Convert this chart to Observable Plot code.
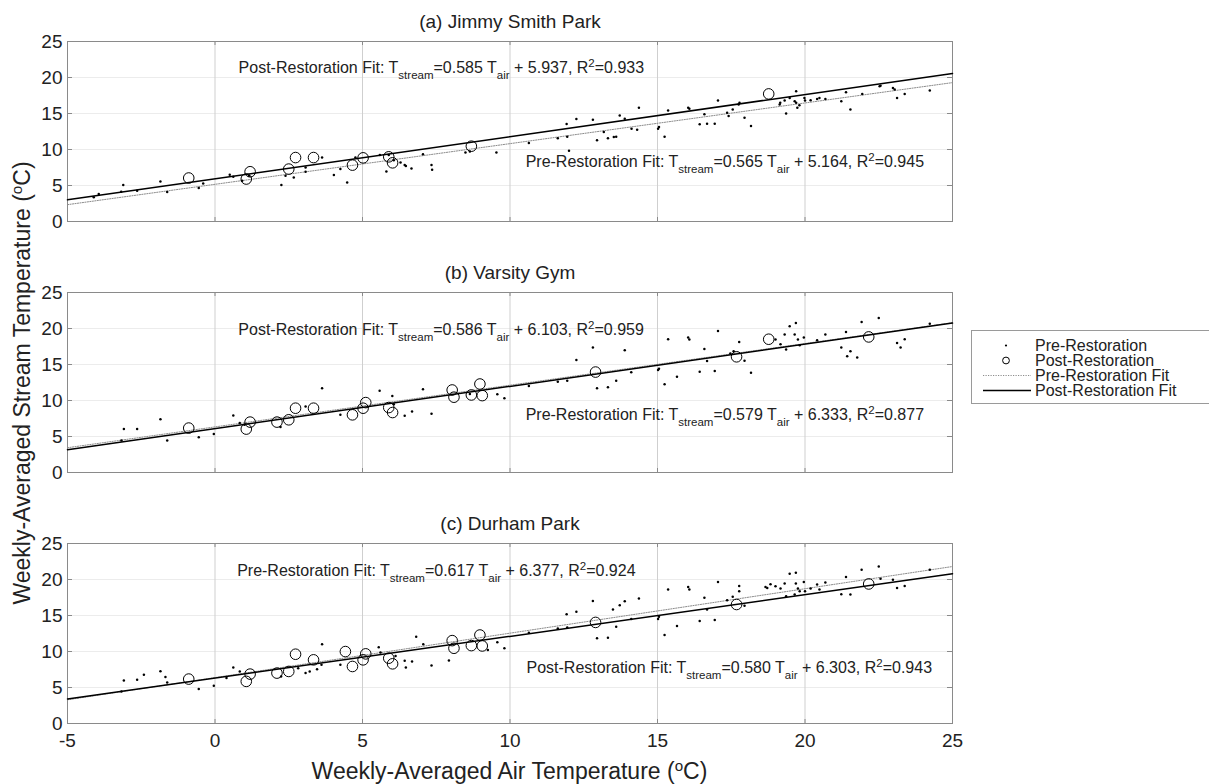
<!DOCTYPE html>
<html>
<head>
<meta charset="utf-8">
<script src="https://cdn.jsdelivr.net/npm/d3@7"></script>
<script src="https://cdn.jsdelivr.net/npm/@observablehq/plot@0.6"></script>
<style>
  html, body { margin: 0; padding: 0; background: #fff; }
  body { width: 1209px; height: 784px; position: relative; overflow: hidden;
         font-family: "Liberation Sans", Arial, Helvetica, sans-serif; color: #222; }
  #chart { position: absolute; left: 0; top: 0; }
  .xlabel { position: absolute; left: 0; width: 1019px; top: 758px; text-align: center; font-size: 23px; line-height: 26px; }
  .ylabel { position: absolute; left: 22px; top: 383px; transform: translate(-50%, -50%) rotate(-90deg); white-space: nowrap; font-size: 23px; line-height: 26px; }
  sup { font-size: 0.66em; vertical-align: 0.55em; line-height: 0; }
  .legend { position: absolute; left: 971px; top: 330px; width: 260px; height: 74px; border: 1px solid #9a9a9a; background: #fff; box-sizing: border-box; padding-top: 7px; }
  .legend .row { height: 15px; line-height: 15px; font-size: 16px; position: relative; white-space: nowrap; }
  .legend .row svg { position: absolute; left: 10px; top: 0; }
  .legend .row span { position: absolute; left: 63px; top: 0; }
</style>
</head>
<body>
<div id="chart"></div>
<div class="ylabel">Weekly-Averaged Stream Temperature (<sup>o</sup>C)</div>
<div class="xlabel">Weekly-Averaged Air Temperature (<sup>o</sup>C)</div>
<div class="legend">
  <div class="row"><svg width="50" height="15"><circle cx="24" cy="7.5" r="1.1" fill="#000"/></svg><span>Pre-Restoration</span></div>
  <div class="row"><svg width="50" height="15"><circle cx="24" cy="7.5" r="3.4" fill="none" stroke="#000" stroke-width="1"/></svg><span>Post-Restoration</span></div>
  <div class="row"><svg width="50" height="15"><line x1="1" x2="49" y1="7.5" y2="7.5" stroke="#8c8c8c" stroke-width="1" stroke-dasharray="1.2,1.3"/></svg><span>Pre-Restoration Fit</span></div>
  <div class="row"><svg width="50" height="15"><line x1="1" x2="49" y1="7.5" y2="7.5" stroke="#000" stroke-width="1.4"/></svg><span>Post-Restoration Fit</span></div>
</div>
<script>
// ---------------- data ----------------
const sites = ["(a) Jimmy Smith Park", "(b) Varsity Gym", "(c) Durham Park"];

const xTicks = [-5, 0, 5, 10, 15, 20, 25];
const yTicks = [0, 5, 10, 15, 20, 25];

// Pre-restoration weekly points [air, stream]
const preA = [[-4.11,3.36],[-3.94,3.82],[-3.11,5.07],[-3.18,4.14],[-2.64,4.28],[-1.85,5.57],[-1.62,4.10],[-0.55,4.65],[-0.40,5.29],[0.50,6.49],[0.62,6.22],[0.92,5.66],[1.15,6.35],[2.25,5.07],[2.39,6.35],[2.67,6.12],[3.07,6.91],[3.07,7.50],[3.63,8.88],[4.03,6.45],[4.25,7.28],[4.48,5.43],[4.76,8.88],[5.59,9.25],[5.81,6.95],[5.89,9.25],[6.06,8.52],[6.29,8.19],[6.43,7.83],[6.47,7.70],[6.66,7.36],[7.05,9.35],[7.34,7.83],[7.36,7.18],[8.49,9.57],[8.64,9.71],[9.54,9.57],[10.64,10.91],[11.62,11.56],[11.94,11.78],[11.92,13.54],[12.00,9.81],[12.25,14.23],[12.81,14.13],[12.95,11.28],[13.18,12.43],[13.32,11.56],[13.52,11.74],[13.60,11.76],[13.72,14.73],[13.89,14.27],[14.12,12.89],[14.31,12.75],[14.37,15.79],[15.02,12.89],[15.05,13.12],[15.24,11.78],[15.36,15.43],[16.04,15.79],[16.08,15.65],[16.43,13.49],[16.59,14.88],[16.68,13.58],[16.94,13.58],[17.05,16.81],[17.36,15.10],[17.41,14.64],[17.55,15.57],[17.75,16.26],[17.78,16.49],[17.95,14.41],[18.17,13.26],[19.14,16.26],[19.16,16.49],[19.31,16.81],[19.36,15.01],[19.48,17.17],[19.70,18.09],[19.65,16.71],[19.70,16.49],[19.74,15.79],[19.81,16.16],[19.98,17.17],[20.00,16.81],[20.19,16.85],[20.41,17.03],[20.49,17.17],[20.69,17.03],[21.23,16.71],[21.39,17.96],[21.54,15.57],[21.94,17.72],[22.53,18.78],[22.56,18.85],[22.98,18.55],[23.04,18.32],[23.12,17.17],[23.38,17.72],[24.23,18.19]];
const preB = [[-3.17,4.46],[-3.09,6.03],[-2.64,6.03],[-1.85,7.41],[-1.62,4.46],[-0.55,4.88],[-0.04,5.34],[0.62,7.92],[0.84,6.86],[1.00,6.63],[2.22,6.31],[3.07,9.16],[3.63,11.70],[4.25,8.01],[5.58,11.37],[6.01,10.64],[6.06,9.48],[6.43,7.87],[6.68,8.47],[7.05,11.56],[7.34,8.15],[8.64,10.90],[9.57,10.87],[9.81,10.32],[10.64,12.02],[11.62,12.62],[11.94,12.75],[12.25,15.61],[12.81,17.36],[12.95,11.70],[13.32,11.83],[13.60,12.75],[13.89,16.99],[14.11,13.91],[15.02,14.23],[15.05,14.41],[15.24,12.25],[15.36,18.51],[15.66,13.30],[16.04,18.74],[16.08,18.46],[16.43,13.99],[16.59,17.17],[16.68,15.47],[16.94,14.09],[17.05,19.65],[17.47,16.53],[17.58,16.85],[17.77,18.14],[17.95,15.51],[18.17,13.86],[19.00,18.46],[19.17,17.82],[19.31,19.16],[19.36,17.08],[19.48,20.30],[19.69,20.76],[19.65,19.16],[19.76,18.46],[19.82,17.68],[19.96,18.74],[20.41,18.37],[20.69,19.16],[21.23,17.36],[21.39,19.52],[21.43,16.16],[21.54,16.85],[21.77,15.98],[21.92,20.90],[22.50,21.45],[23.12,18.00],[23.24,17.36],[23.38,18.51],[24.23,20.67]];
const preC = [[-3.17,4.46],[-3.09,5.98],[-2.64,6.08],[-2.41,6.77],[-1.85,7.27],[-1.68,6.45],[-1.62,5.71],[-0.55,4.79],[-0.04,5.25],[0.39,6.31],[0.62,7.78],[0.84,7.23],[2.24,6.54],[2.82,7.69],[3.07,7.00],[3.21,7.23],[3.46,7.55],[3.61,8.15],[3.63,11.00],[4.25,8.15],[5.55,10.59],[5.61,9.85],[6.12,9.39],[6.43,8.70],[6.47,7.78],[6.68,8.61],[6.82,12.06],[7.06,11.00],[7.34,8.06],[7.93,8.75],[9.25,10.22],[9.57,11.28],[9.81,10.45],[10.64,12.62],[11.62,13.21],[11.94,13.35],[11.92,15.19],[12.25,15.52],[12.81,17.03],[12.95,11.83],[13.32,11.92],[13.49,15.84],[13.60,13.44],[13.72,16.44],[13.89,16.99],[14.11,14.50],[14.37,17.36],[15.02,14.50],[15.05,14.82],[15.24,12.29],[15.36,18.60],[15.66,13.54],[16.04,18.97],[16.08,18.60],[16.43,14.23],[16.59,17.45],[16.68,15.84],[16.94,14.36],[17.05,19.66],[17.36,17.13],[17.55,17.59],[17.77,19.10],[17.77,18.37],[17.95,16.34],[18.66,18.97],[18.72,18.83],[18.83,19.34],[19.00,19.06],[19.17,18.74],[19.31,19.43],[19.36,17.68],[19.48,20.81],[19.69,20.95],[19.69,19.43],[19.76,18.74],[19.65,17.91],[19.82,18.37],[19.96,19.66],[20.00,18.37],[20.19,18.74],[20.41,19.30],[20.49,18.60],[20.69,19.57],[21.23,17.96],[21.39,20.35],[21.54,17.91],[21.92,21.37],[22.50,21.82],[22.56,20.12],[22.98,19.98],[23.12,18.83],[23.38,19.10],[24.23,21.37]];

// Post-restoration weekly points [air, stream]
const postA = [[-0.89,6.04],[1.06,5.90],[1.19,6.91],[2.50,7.28],[2.73,8.88],[3.34,8.88],[4.66,7.83],[5.02,8.84],[5.89,8.98],[6.02,8.15],[8.69,10.46],[18.77,17.72]];
const postB = [[-0.89,6.17],[1.06,6.03],[1.19,7.00],[2.10,7.00],[2.50,7.32],[2.73,8.93],[3.34,8.93],[4.66,8.01],[5.02,8.93],[5.11,9.71],[5.89,9.02],[6.02,8.33],[8.04,11.46],[8.10,10.46],[8.69,10.77],[8.98,12.29],[9.06,10.68],[12.90,13.95],[17.68,16.07],[18.77,18.51],[22.16,18.83]];
const postC = [[-0.89,6.17],[1.06,5.85],[1.19,6.86],[2.10,7.00],[2.50,7.23],[2.73,9.62],[3.34,8.84],[4.42,9.99],[4.66,7.92],[5.02,8.84],[5.11,9.67],[5.89,9.07],[6.02,8.29],[8.04,11.51],[8.10,10.45],[8.69,10.82],[8.98,12.29],[9.06,10.77],[12.90,14.04],[17.68,16.53],[22.16,19.38]];

// Fit coefficients (from the printed equations)
const preSlope = [0.565, 0.579, 0.617];
const preIntercept = [5.164, 6.333, 6.377];
const preR2 = [0.945, 0.877, 0.924];
const postSlope = [0.585, 0.586, 0.580];
const postIntercept = [5.937, 6.103, 6.303];
const postR2 = [0.933, 0.959, 0.943];

// Which fit's note sits at the top of each panel, and note anchors (data units)
const topNote = ["post", "post", "pre"];
const noteTopXY = [[0.80, 21.4], [0.79, 19.75], [0.75, 21.2]];
const noteBottomXY = [[10.53, 8.3], [10.53, 8.0], [10.56, 7.7]];

// ---------------- tables ----------------
const xDomain = [-5, 25];
const points = [];
const pres = [preA, preB, preC], posts = [postA, postB, postC];
sites.forEach((s, i) => {
  pres[i].forEach(([x, y]) => points.push({site: s, x, y, kind: "pre"}));
  posts[i].forEach(([x, y]) => points.push({site: s, x, y, kind: "post"}));
});
const fitLines = [];
sites.forEach((s, i) => {
  for (const x of xDomain) {
    fitLines.push({site: s, kind: "pre", x, y: preSlope[i] * x + preIntercept[i]});
    fitLines.push({site: s, kind: "post", x, y: postSlope[i] * x + postIntercept[i]});
  }
});
const f3 = d3.format(".3f");
function noteText(kind, i) {
  const a = kind === "pre" ? preSlope[i] : postSlope[i];
  const b = kind === "pre" ? preIntercept[i] : postIntercept[i];
  const r = kind === "pre" ? preR2[i] : postR2[i];
  const lab = kind === "pre" ? "Pre-Restoration Fit: " : "Post-Restoration Fit: ";
  return `${lab}T_{stream}=${f3(a)} T_{air} + ${f3(b)}, R^{2}=${f3(r)}`;
}
const notes = [];
sites.forEach((s, i) => {
  const tk = topNote[i], bk = tk === "pre" ? "post" : "pre";
  notes.push({site: s, x: noteTopXY[i][0], y: noteTopXY[i][1], text: noteText(tk, i)});
  notes.push({site: s, x: noteBottomXY[i][0], y: noteBottomXY[i][1], text: noteText(bk, i)});
});

// ---------------- plot ----------------
const W = 1209, H = 784, mL = 67, mR = 257, mT = 40, mB = 60;
const frameW = W - mL - mR;
const panelH = 181;

const plot = Plot.plot({
  width: W, height: H,
  marginLeft: mL, marginRight: mR, marginTop: mT, marginBottom: mB,
  style: {fontFamily: '"Liberation Sans", Arial, Helvetica, sans-serif', fontSize: "19px", color: "#222", background: "#fff"},
  x: {domain: xDomain, ticks: xTicks},
  y: {domain: [0, 25], ticks: yTicks},
  fy: {domain: sites, paddingInner: 71 / 252, paddingOuter: 0, axis: null},
  marks: [
    Plot.gridY({ticks: yTicks, stroke: "#ececec", strokeOpacity: 1}),
    Plot.gridX({ticks: xTicks, stroke: "#cfcfcf", strokeOpacity: 1}),
    Plot.tickY(yTicks, {y: d => d, stroke: "#8a8a8a", insetRight: frameW - 5}),
    Plot.tickY(yTicks, {y: d => d, stroke: "#8a8a8a", insetLeft: frameW - 5}),
    Plot.tickX(xTicks, {x: d => d, stroke: "#8a8a8a", insetBottom: panelH - 5}),
    Plot.tickX(xTicks, {x: d => d, stroke: "#8a8a8a", insetTop: panelH - 5}),
    Plot.frame({stroke: "#8a8a8a"}),
    Plot.axisY({ticks: yTicks, tickSize: 0, tickPadding: 5, fontSize: 19, label: null, tickFormat: d => String(d)}),
    Plot.axisX({ticks: xTicks, tickSize: 0, tickPadding: 10, fontSize: 19, label: null, tickFormat: d => String(d)}),
    Plot.line(fitLines.filter(d => d.kind === "pre"), {x: "x", y: "y", z: "site", fy: "site", stroke: "#8c8c8c", strokeWidth: 1, strokeDasharray: "1.2,1.3"}),
    Plot.line(fitLines.filter(d => d.kind === "post"), {x: "x", y: "y", z: "site", fy: "site", stroke: "#000", strokeWidth: 1.5}),
    Plot.dot(points.filter(d => d.kind === "pre"), {x: "x", y: "y", fy: "site", r: 1.25, fill: "#000", stroke: null}),
    Plot.dot(points.filter(d => d.kind === "post"), {x: "x", y: "y", fy: "site", r: 5.3, fill: "none", stroke: "#000", strokeWidth: 1}),
    Plot.text(notes, {x: "x", y: "y", fy: "site", text: "text", textAnchor: "start", fontSize: 16, fill: "#222"}),
    Plot.text(sites, {fy: d => d, text: d => d, frameAnchor: "top", lineAnchor: "middle", dy: -20, fontSize: 19, fill: "#222"})
  ]
});

// render _{sub} and ^{sup} as tspans
function richify(svg) {
  d3.select(svg).selectAll("text").each(function () {
    const t = this.textContent;
    if (!/[_^]\{/.test(t)) return;
    const sel = d3.select(this);
    sel.text(null);
    let shift = 0;
    for (const p of t.split(/([_^]\{[^}]*\})/)) {
      if (!p) continue;
      const m = p.match(/^([_^])\{([^}]*)\}$/);
      if (m) {
        const d = m[1] === "_" ? 6 : -6;
        sel.append("tspan").attr("dy", d).style("font-size", "11.5px").text(m[2]);
        shift += d;
      } else {
        sel.append("tspan").attr("dy", -shift).text(p);
        shift = 0;
      }
    }
  });
}
richify(plot);
document.getElementById("chart").appendChild(plot);
</script>
</body>
</html>
